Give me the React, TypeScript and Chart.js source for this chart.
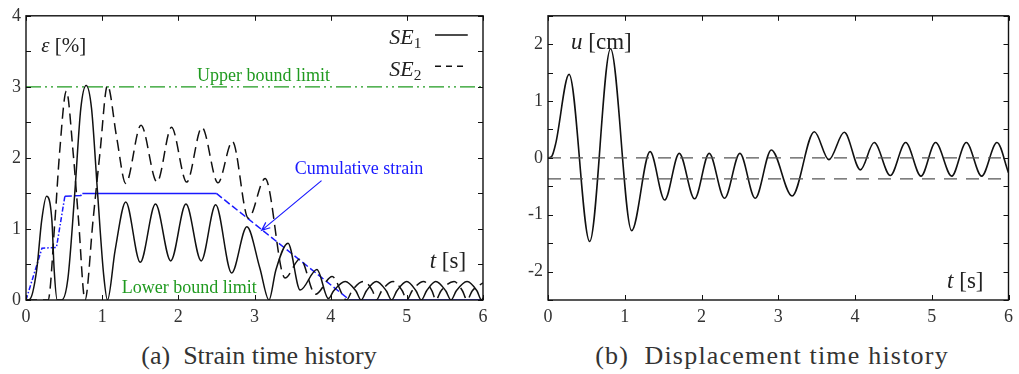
import React, { useEffect, useRef } from 'react';
import { Chart, registerables } from 'chart.js';

Chart.register(...registerables);

// ---------- data ----------
const se1Time = [0, 0.05, 0.14, 0.206, 0.27, 0.34, 0.37, 0.41, 0.47, 0.55, 0.64, 0.72, 0.79, 0.86, 0.94, 1.02, 1.07, 1.17, 1.31, 1.5, 1.7, 1.9, 2.1, 2.3, 2.49, 2.7, 2.9, 3.07, 3.19, 3.28, 3.44, 3.6, 3.82, 3.97, 4.04, 4.19, 4.33, 4.4, 4.47, 4.6, 4.73, 4.8, 4.87, 5.0, 5.12, 5.19, 5.26, 5.38, 5.51, 5.58, 5.65, 5.79, 5.92, 5.98, 6.0];
const se1Strain = [0, 0.01, 0.42, 1.12, 1.46, 1.12, 0.42, 0, 0, 0.3, 1.5, 2.7, 3.02, 2.7, 1.5, 0.35, 0, 0.7, 1.38, 0.53, 1.35, 0.55, 1.35, 0.55, 1.34, 0.38, 1.03, 0.45, 0, 0.42, 0.8, 0.14, 0.43, 0.02, 0.13, 0.26, 0.13, 0, 0.13, 0.26, 0.13, 0, 0.13, 0.26, 0.13, 0, 0.13, 0.26, 0.13, 0, 0.13, 0.26, 0.13, 0, 0.03];

const se2Time = [0, 0.29, 0.38, 0.44, 0.53, 0.62, 0.69, 0.775, 0.88, 0.97, 1.07, 1.19, 1.31, 1.51, 1.72, 1.91, 2.11, 2.31, 2.52, 2.71, 2.92, 3.14, 3.4, 3.6, 3.8, 4.02, 4.21, 4.28, 4.43, 4.55, 4.6, 4.67, 4.82, 4.94, 5.0, 5.07, 5.22, 5.33, 5.38, 5.45, 5.62, 5.73, 5.79, 5.86, 6.0];
const se2Strain = [0, 0, 1.12, 2.06, 2.94, 2.06, 1.12, 0, 1.12, 2.06, 3.02, 2.29, 1.64, 2.46, 1.66, 2.43, 1.66, 2.43, 1.65, 2.23, 1.15, 1.71, 0.31, 0.58, 0.08, 0.33, 0, 0.13, 0.26, 0.13, 0, 0.13, 0.26, 0.13, 0, 0.13, 0.26, 0.13, 0, 0.13, 0.26, 0.13, 0, 0.13, 0.24];

const cumTime = [0, 0.21, 0.4, 0.51, 0.72, 0.74, 2.5, 4.25, 6.0];
const cumStrain = [0, 0.73, 0.74, 1.46, 1.47, 1.5, 1.5, 0, 0];

const boundTime = [0, 6];
const upperBound = [3, 3];

const dispTime = [0, 0.05, 0.1, 0.275, 0.543, 0.815, 1.09, 1.33, 1.52, 1.71, 1.91, 2.1, 2.3, 2.5, 2.7, 2.91, 3.18, 3.47, 3.66, 3.86, 4.07, 4.25, 4.46, 4.66, 4.86, 5.05, 5.26, 5.45, 5.65, 5.85, 6.0];
const dispCm = [0, 0.03, 0.25, 1.47, -1.47, 1.92, -1.28, 0.11, -0.74, 0.08, -0.72, 0.08, -0.71, 0.08, -0.71, 0.14, -0.67, 0.46, -0.03, 0.45, -0.21, 0.27, -0.31, 0.27, -0.32, 0.27, -0.32, 0.27, -0.32, 0.27, -0.26];

const refTime = [0, 6];
const refZero = [0, 0];
const refOffset = [-0.37, -0.37];

const timeTicks = [0, 1, 2, 3, 4, 5, 6];
const strainTicks = [0, 0.5, 1, 1.5, 2, 2.5, 3, 3.5, 4];
const dispTicks = [-2.5, -2, -1.5, -1, -0.5, 0, 0.5, 1, 1.5, 2, 2.5];

const FONT = "'Liberation Serif', 'Times New Roman', serif";
const GREEN = '#1f9a1f';
const BLUE = '#1a1aff';

const zip = (xs: number[], ys: number[]) => xs.map((x, i) => ({ x, y: ys[i] }));

type Part = { t: string; italic?: boolean; sub?: boolean };
type Label = { parts: Part[]; x: number; y: number; size: number; color: string };

function drawRich(ctx: CanvasRenderingContext2D, parts: Part[], x: number, y: number, size: number, color: string) {
  let cx = x;
  ctx.fillStyle = color;
  ctx.textAlign = 'left';
  ctx.textBaseline = 'alphabetic';
  for (const p of parts) {
    const fs = p.sub ? size * 0.7 : size;
    ctx.font = `${p.italic ? 'italic ' : ''}${fs}px ${FONT}`;
    ctx.fillText(p.t, cx, y + (p.sub ? size * 0.18 : 0));
    cx += ctx.measureText(p.t).width;
  }
}

const framePlugin = {
  id: 'frame',
  afterDatasetsDraw(chart: any, _args: any, opts: any) {
    const { ctx, chartArea: a, scales } = chart;
    ctx.save();
    ctx.strokeStyle = '#111';
    ctx.lineWidth = 1;
    ctx.setLineDash([]);
    ctx.beginPath();
    const L = 5;
    for (const v of opts.xTicks || []) {
      const px = Math.round(scales.x.getPixelForValue(v)) + 0.5;
      ctx.moveTo(px, a.bottom); ctx.lineTo(px, a.bottom - L);
      ctx.moveTo(px, a.top); ctx.lineTo(px, a.top + L);
    }
    for (const v of opts.yTicks || []) {
      const py = Math.round(scales.y.getPixelForValue(v)) + 0.5;
      ctx.moveTo(a.left, py); ctx.lineTo(a.left + L, py);
      ctx.moveTo(a.right, py); ctx.lineTo(a.right - L, py);
    }
    ctx.stroke();
    ctx.lineWidth = 1.4;
    ctx.strokeRect(a.left, a.top, a.right - a.left, a.bottom - a.top);

    // text labels placed in data coordinates
    for (const lb of (opts.labels || []) as Label[]) {
      const px = scales.x.getPixelForValue(lb.x);
      const py = scales.y.getPixelForValue(lb.y);
      drawRich(ctx, lb.parts, px, py + lb.size * 0.33, lb.size, lb.color);
    }
    // legend samples
    for (const lg of opts.legend || []) {
      const x0 = scales.x.getPixelForValue(lg.x0);
      const x1 = scales.x.getPixelForValue(lg.x1);
      const py = scales.y.getPixelForValue(lg.y);
      ctx.beginPath();
      ctx.strokeStyle = '#111';
      ctx.lineWidth = 1.5;
      ctx.setLineDash(lg.dash);
      ctx.moveTo(x0, py); ctx.lineTo(x1, py);
      ctx.stroke();
    }
    ctx.setLineDash([]);
    // arrows
    for (const ar of opts.arrows || []) {
      const x0 = scales.x.getPixelForValue(ar.x0);
      const y0 = scales.y.getPixelForValue(ar.y0);
      const x1 = scales.x.getPixelForValue(ar.x1);
      const y1 = scales.y.getPixelForValue(ar.y1);
      const ang = Math.atan2(y1 - y0, x1 - x0);
      ctx.strokeStyle = ar.color;
      ctx.lineWidth = 1.2;
      ctx.beginPath();
      ctx.moveTo(x0, y0); ctx.lineTo(x1, y1);
      const h = 9, w = 0.4;
      ctx.moveTo(x1 - h * Math.cos(ang - w), y1 - h * Math.sin(ang - w));
      ctx.lineTo(x1, y1);
      ctx.lineTo(x1 - h * Math.cos(ang + w), y1 - h * Math.sin(ang + w));
      ctx.stroke();
    }
    ctx.restore();
  },
};

function axisOptions(yMin: number, yMax: number, yWidth: number) {
  const tickFont = { family: FONT, size: 18 };
  return {
    x: {
      type: 'linear',
      min: 0,
      max: 6,
      grid: { display: false, drawTicks: false },
      border: { display: false },
      ticks: { stepSize: 1, font: tickFont, color: '#333', padding: 6, maxRotation: 0, autoSkip: false },
      afterFit: (s: any) => { s.height = 40; },
    },
    y: {
      type: 'linear',
      min: yMin,
      max: yMax,
      grid: { display: false, drawTicks: false },
      border: { display: false },
      ticks: {
        stepSize: 0.5,
        font: tickFont,
        color: '#333',
        padding: 5,
        autoSkip: false,
        callback: (v: number) => (Math.abs(v - Math.round(v)) < 1e-9 ? String(Math.round(v)) : ''),
      },
      afterFit: (s: any) => { s.width = yWidth; },
    },
  };
}

function StrainChart() {
  const ref = useRef<HTMLCanvasElement>(null);
  useEffect(() => {
    const chart = new Chart(ref.current!, {
      type: 'line',
      data: {
        datasets: [
          {
            data: zip(boundTime, upperBound),
            borderColor: GREEN,
            borderWidth: 1.4,
            borderDash: [15, 4, 2, 4, 2, 4],
            pointRadius: 0,
          },
          {
            data: zip(se2Time, se2Strain),
            borderColor: '#111',
            borderWidth: 1.5,
            borderDash: [11, 6],
            pointRadius: 0,
            cubicInterpolationMode: 'monotone',
          },
          {
            data: zip(se1Time, se1Strain),
            borderColor: '#111',
            borderWidth: 1.5,
            pointRadius: 0,
            cubicInterpolationMode: 'monotone',
          },
          {
            data: zip(cumTime, cumStrain),
            borderColor: BLUE,
            borderWidth: 1.5,
            pointRadius: 0,
            tension: 0,
            segment: {
              borderDash: (c: any) => {
                if (c.p0.parsed.y === c.p1.parsed.y) return [];
                return c.p1.parsed.x <= 0.52 ? [5, 2, 1.5, 2] : [7, 3];
              },
            },
          },
        ],
      } as any,
      options: {
        animation: false,
        responsive: false,
        events: [],
        layout: { padding: { top: 15, right: 17, left: 0, bottom: 0 } },
        scales: axisOptions(0, 4, 26) as any,
        plugins: {
          legend: { display: false },
          tooltip: { enabled: false },
          frame: {
            xTicks: timeTicks,
            yTicks: strainTicks,
            labels: [
              { parts: [{ t: 'ε', italic: true }, { t: ' [%]' }], x: 0.2, y: 3.59, size: 21, color: '#222' },
              { parts: [{ t: 'SE', italic: true }, { t: '1', sub: true }], x: 4.77, y: 3.7, size: 22, color: '#222' },
              { parts: [{ t: 'SE', italic: true }, { t: '2', sub: true }], x: 4.77, y: 3.26, size: 22, color: '#222' },
              { parts: [{ t: 'Upper bound limit' }], x: 2.245, y: 3.17, size: 18, color: GREEN },
              { parts: [{ t: 'Lower bound limit' }], x: 1.256, y: 0.18, size: 18, color: GREEN },
              { parts: [{ t: 'Cumulative strain' }], x: 3.53, y: 1.85, size: 18, color: BLUE },
              { parts: [{ t: 't', italic: true }, { t: ' [s]' }], x: 5.3, y: 0.56, size: 23, color: '#222' },
            ],
            legend: [
              { x0: 5.37, x1: 5.8, y: 3.73, dash: [] },
              { x0: 5.37, x1: 5.8, y: 3.29, dash: [6, 5] },
            ],
            arrows: [{ x0: 3.88, y0: 1.68, x1: 3.094, y1: 0.98, color: BLUE }],
          },
        } as any,
      },
      plugins: [framePlugin],
    });
    return () => chart.destroy();
  }, []);
  return <canvas ref={ref} width={500} height={340} style={{ position: 'absolute', left: 0, top: 0 }} />;
}

function DisplacementChart() {
  const ref = useRef<HTMLCanvasElement>(null);
  useEffect(() => {
    const chart = new Chart(ref.current!, {
      type: 'line',
      data: {
        datasets: [
          {
            data: zip(refTime, refZero),
            borderColor: '#555',
            borderWidth: 1.2,
            borderDash: [13, 9],
            pointRadius: 0,
          },
          {
            data: zip(refTime, refOffset),
            borderColor: '#555',
            borderWidth: 1.2,
            borderDash: [13, 9],
            pointRadius: 0,
          },
          {
            data: zip(dispTime, dispCm),
            borderColor: '#111',
            borderWidth: 1.6,
            pointRadius: 0,
            cubicInterpolationMode: 'monotone',
          },
        ],
      } as any,
      options: {
        animation: false,
        responsive: false,
        events: [],
        layout: { padding: { top: 15, right: 7, left: 0, bottom: 0 } },
        scales: axisOptions(-2.5, 2.5, 43) as any,
        plugins: {
          legend: { display: false },
          tooltip: { enabled: false },
          frame: {
            xTicks: timeTicks,
            yTicks: dispTicks,
            labels: [
              { parts: [{ t: 'u', italic: true }, { t: ' [cm]' }], x: 0.3, y: 2.05, size: 23, color: '#222' },
              { parts: [{ t: 't', italic: true }, { t: ' [s]' }], x: 5.2, y: -2.16, size: 23, color: '#222' },
            ],
          },
        } as any,
      },
      plugins: [framePlugin],
    });
    return () => chart.destroy();
  }, []);
  return <canvas ref={ref} width={514} height={340} style={{ position: 'absolute', left: 505, top: 0 }} />;
}

const captionStyle: React.CSSProperties = {
  position: 'absolute',
  top: 343,
  fontFamily: FONT,
  fontSize: 26,
  lineHeight: '26px',
  color: '#333',
  whiteSpace: 'nowrap',
  transform: 'translateX(-50%)',
};

export default function App() {
  return (
    <div style={{ position: 'absolute', left: 0, top: 0, width: 1019, height: 374, background: '#fff', overflow: 'hidden' }}>
      <StrainChart />
      <DisplacementChart />
      <div style={{ ...captionStyle, left: 259 }}>(a)&nbsp; Strain time history</div>
      <div style={{ ...captionStyle, left: 772, letterSpacing: '1.2px' }}>(b)&nbsp; Displacement time history</div>
    </div>
  );
}
